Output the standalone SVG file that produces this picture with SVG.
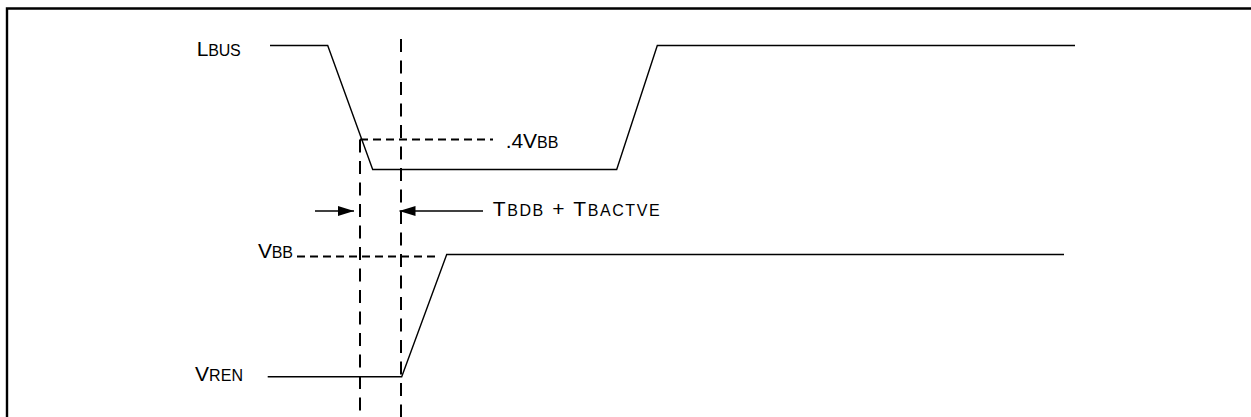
<svg xmlns="http://www.w3.org/2000/svg" width="1251" height="417" viewBox="0 0 1251 417">
<style>
.sig{fill:none;stroke:#000;stroke-width:1.4;stroke-linejoin:miter}
.vd{fill:none;stroke:#000;stroke-width:2;stroke-dasharray:13 8.5}
.hd{fill:none;stroke:#000;stroke-width:1.8;stroke-dasharray:8 5}
.arr{fill:none;stroke:#000;stroke-width:1.6}
.lbl{font-family:"Liberation Sans",Arial,sans-serif;font-size:21px;fill:#000}
.sm{font-size:16px}
</style>
<defs>
<marker id="ah" markerWidth="16" markerHeight="10" refX="16" refY="5" orient="auto" markerUnits="userSpaceOnUse">
<path d="M0,0 L16,5 L0,10 Z" fill="#000"/>
</marker>
</defs>
<rect width="1251" height="417" fill="#fff"/>
<g id="frame">
<path d="M7,417 L7,8.5 L1251,8.5" fill="none" stroke="#000" stroke-width="2.4"/>
</g>
<g id="lbus">
<text class="lbl" x="196.7" y="56" textLength="44" lengthAdjust="spacing">L<tspan class="sm">BUS</tspan></text>
<path class="sig" d="M270,45.5 L327.7,45.5 L372.7,169.5 L616.7,169.5 L657.3,45.5 L1075,45.5"/>
</g>
<g id="vren">
<text class="lbl" x="195" y="381" textLength="48" lengthAdjust="spacing">V<tspan class="sm">REN</tspan></text>
<path class="sig" d="M267.7,376.7 L401.7,376.7 L446.7,254.5 L1064,254.5"/>
</g>
<g id="label-04vbb">
<text class="lbl" x="505.7" y="148.3" textLength="52.6" lengthAdjust="spacing">.4V<tspan class="sm">BB</tspan></text>
</g>
<g id="label-vbb">
<text class="lbl" x="258" y="258.3" textLength="35" lengthAdjust="spacing">V<tspan class="sm">BB</tspan></text>
</g>
<g id="label-t">
<text class="lbl" x="492.7" y="216" textLength="167" lengthAdjust="spacing">T<tspan class="sm">BDB</tspan> + T<tspan class="sm">BACTVE</tspan></text>
</g>
<g id="connectors">
<path class="vd" d="M360,139.5 L360,417"/>
<path class="vd" d="M401,39 L401,417"/>
<path class="hd" d="M360,139.5 L493,139.5"/>
<path class="hd" d="M297,256.5 L440,256.5"/>
<path class="arr" d="M315,211 L354,211" marker-end="url(#ah)"/>
<path class="arr" d="M483,211 L399.5,211" marker-end="url(#ah)"/>
</g>
</svg>
